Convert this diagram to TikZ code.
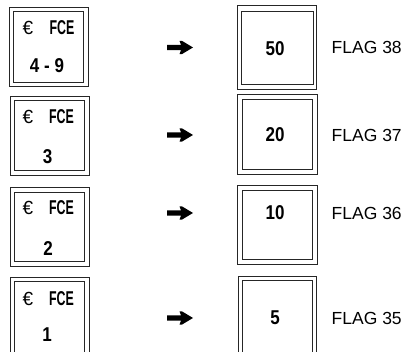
\documentclass[tikz,border=0pt]{standalone}
\usepackage{fontspec}
\setmainfont{Liberation Sans}
\newfontfamily\condfont[FakeStretch=0.62]{Liberation Sans}
\newfontfamily\numfont[FakeStretch=0.85]{Liberation Sans}
\usetikzlibrary{calc}
\begin{document}
\begin{tikzpicture}[x=1pt,y=-1pt,
  obox/.style={draw=black!85,line width=1pt,inner sep=0pt},
  euro/.style={font=\fontsize{19}{19}\selectfont,inner sep=0pt},
  fce/.style={font=\condfont\bfseries\fontsize{20}{20}\selectfont,inner sep=0pt},
  num/.style={font=\numfont\bfseries\fontsize{20}{20}\selectfont,inner sep=0pt},
  flag/.style={font=\fontsize{17.5}{17.5}\selectfont,inner sep=0pt,anchor=west},
  bigarrow/.style={fill=black}
]
\useasboundingbox (0,0) rectangle (407,352);
\clip (0,0) rectangle (407,352);
% left boxes (outer, inner)
\node[obox,minimum width=79pt,minimum height=79pt] (l1) at (48.5,47.5) {};
\node[obox,minimum width=70pt,minimum height=71pt] (li1) at (48,47.5) {};
\node[obox,minimum width=79pt,minimum height=79pt] (l2) at (49.5,136.5) {};
\node[obox,minimum width=70pt,minimum height=70pt] (li2) at (49,136) {};
\node[obox,minimum width=79pt,minimum height=79pt] (l3) at (49.5,227.5) {};
\node[obox,minimum width=70pt,minimum height=69pt] (li3) at (49,227.5) {};
\node[obox,minimum width=79pt,minimum height=79pt] (l4) at (49.5,317.5) {};
\node[obox,minimum width=70pt,minimum height=71pt] (li4) at (49,317.5) {};
% right boxes
\node[obox,minimum width=79pt,minimum height=84pt] (r1) at (276.5,48) {};
\node[obox,minimum width=72pt,minimum height=73pt] (ri1) at (277,48.5) {};
\node[obox,minimum width=80pt,minimum height=80pt] (r2) at (277,135) {};
\node[obox,minimum width=70pt,minimum height=70pt] (ri2) at (277,135) {};
\node[obox,minimum width=80pt,minimum height=79pt] (r3) at (277,225.5) {};
\node[obox,minimum width=70pt,minimum height=69pt] (ri3) at (277,225.5) {};
\node[obox,minimum width=78pt,minimum height=80pt] (r4) at (277,317) {};
\node[obox,minimum width=70pt,minimum height=72pt] (ri4) at (277,317) {};
% left texts
\node[euro] (e1) at (28,28) {€};
\node[fce] (f1) at (62,28) {FCE};
\node[num] (n1) at (47,65.5) {4 - 9};
\node[euro] (e2) at (28,117) {€};
\node[fce] (f2) at (61.5,117) {FCE};
\node[num] (n2) at (47.5,157) {3};
\node[euro] (e3) at (28,207.5) {€};
\node[fce] (f3) at (61.5,207.5) {FCE};
\node[num] (n3) at (48,248.5) {2};
\node[euro] (e4) at (28,298.5) {€};
\node[fce] (f4) at (61.5,298.5) {FCE};
\node[num] (n4) at (47,335) {1};
% arrows
\foreach \yy/\nm in {47.5/a1,135/a2,213/a3,318/a4}{
  \coordinate (\nm) at (167,\yy);
  \fill[bigarrow] ($(\nm)+(0,-2.6)$) -- ++(14,0) -- ++(-1.5,-4) -- ++(2.5,0) -- ++(11,6.6) -- ++(-11,6.6) -- ++(-2.5,0) -- ++(1.5,-4) -- ++(-14,0) -- cycle;
}
% right numbers
\node[num] (v1) at (275,48.5) {50};
\node[num] (v2) at (275,135) {20};
\node[num] (v3) at (275,213) {10};
\node[num] (v4) at (275,318) {5};
% flags
\node[flag] (g1) at (331.5,47.5) {FLAG 38};
\node[flag] (g2) at (331.5,135) {FLAG 37};
\node[flag] (g3) at (331.5,213) {FLAG 36};
\node[flag] (g4) at (331.5,318) {FLAG 35};
\end{tikzpicture}
\end{document}
